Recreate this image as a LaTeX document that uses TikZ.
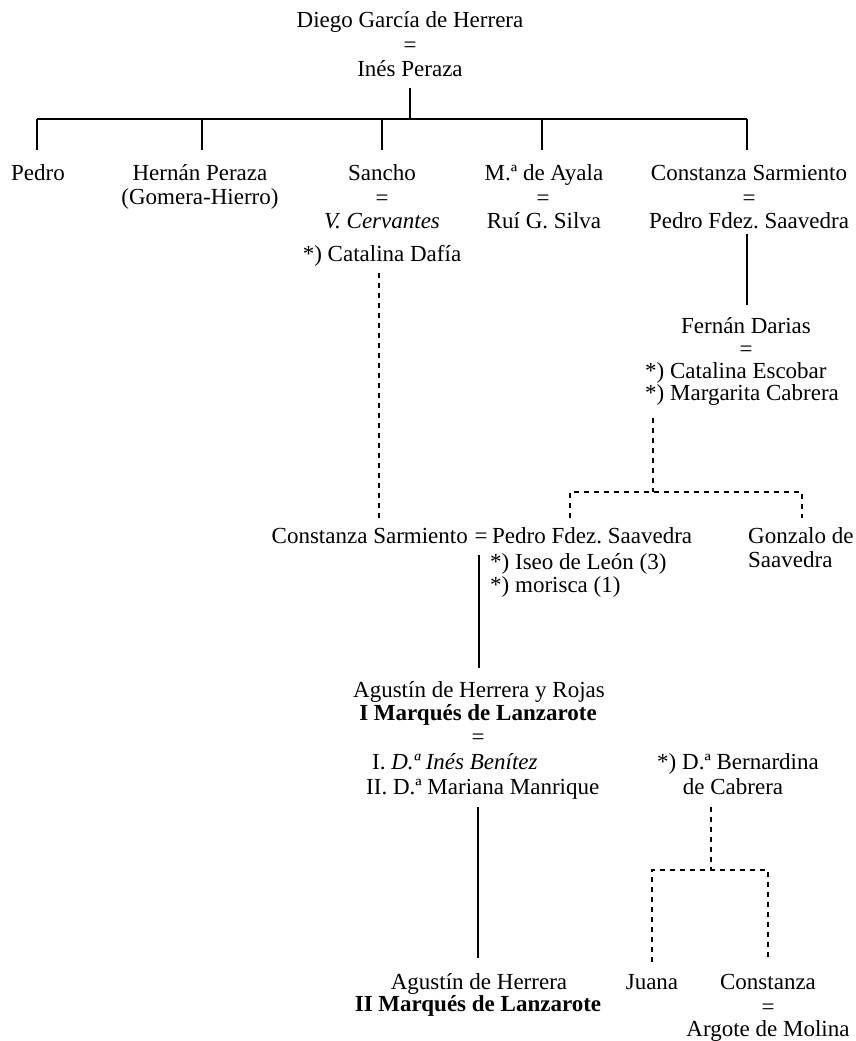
\documentclass[tikz,border=0pt]{standalone}
\usepackage{fontspec}
\setmainfont{Liberation Serif}
\frenchspacing
\begin{document}
\begin{tikzpicture}[x=1pt,y=-1pt,
  txt/.style={inner sep=0pt, text height=16pt, text depth=5pt, font=\fontsize{23}{25}\selectfont},
  solidline/.style={line width=1.6pt},
  dashline/.style={line width=1.4pt, dash pattern=on 5pt off 5pt}]
\useasboundingbox (0,0) rectangle (855,1041);
% top couple
\node[txt] (diego) at (410,22) {Diego García de Herrera};
\node[txt] (eqA) at (410,47) {=};
\node[txt] (ines) at (410,71) {Inés Peraza};
% children row
\node[txt] (pedro) at (38,175) {Pedro};
\node[txt] (hernan) at (200,175) {Hernán Peraza};
\node[txt] (gomera) at (200,199) {(Gomera-Hierro)};
\node[txt] (sancho) at (382,175) {Sancho};
\node[txt] (eqS) at (382,200) {=};
\node[txt] (cervantes) at (382,223) {\itshape V. Cervantes};
\node[txt] (dafia) at (382,256) {*) Catalina Dafía};
\node[txt] (ayala) at (544,175) {M.ª de Ayala};
\node[txt] (eqM) at (543,200) {=};
\node[txt] (silva) at (544,223) {Ruí G. Silva};
\node[txt] (constanza) at (749,175) {Constanza Sarmiento};
\node[txt] (eqC) at (749,200) {=};
\node[txt] (pedrofs) at (749,223) {Pedro Fdez. Saavedra};
% Fernan Darias
\node[txt] (fernan) at (746,328) {Fernán Darias};
\node[txt] (eqF) at (746,351) {=};
\node[txt, anchor=west] (escobar) at (645,373) {*) Catalina Escobar};
\node[txt, anchor=west] (margarita) at (645,395) {*) Margarita Cabrera};
% middle couple
\node[txt, anchor=east] (cs2) at (468,538) {Constanza Sarmiento};
\node[txt] (eq2) at (481,538) {=};
\node[txt, anchor=west] (pfs2) at (492,538) {Pedro Fdez. Saavedra};
\node[txt, anchor=west] (gonzalo) at (748,538) {Gonzalo de};
\node[txt, anchor=west] (saav) at (748,562) {Saavedra};
\node[txt, anchor=west] (iseo) at (490,564) {*) Iseo de León (3)};
\node[txt, anchor=west] (morisca) at (490,587) {*) morisca (1)};
% Agustin I
\node[txt] (ag1) at (479,692) {Agustín de Herrera y Rojas};
\node[txt] (marq1) at (478,715) {\bfseries I Marqués de Lanzarote};
\node[txt] (eqAg) at (478,739) {=};
\node[txt, anchor=west] (benitez) at (372,764) {I. \itshape D.ª Inés Benítez};
\node[txt, anchor=west] (mariana) at (366,789) {II. D.ª Mariana Manrique};
\node[txt] (bern) at (738,764) {*) D.ª Bernardina};
\node[txt] (decab) at (733,789) {de Cabrera};
% bottom
\node[txt] (ag2) at (479,984) {Agustín de Herrera};
\node[txt] (marq2) at (478,1006) {\bfseries II Marqués de Lanzarote};
\node[txt] (juana) at (652,984) {Juana};
\node[txt] (const3) at (768,984) {Constanza};
\node[txt] (eqK) at (768,1009) {=};
\node[txt] (argote) at (768,1031) {Argote de Molina};
% junctions
\coordinate (j0) at (410,119);
\coordinate (b1) at (37,119);
\coordinate (b2) at (202,119);
\coordinate (b3) at (382,119);
\coordinate (b4) at (542,119);
\coordinate (b5) at (747,119);
\coordinate (d0) at (379,256);
\coordinate (j1) at (653,492);
\coordinate (k1) at (570,492);
\coordinate (k2) at (802,492);
\coordinate (s1) at (479,538);
\coordinate (j3) at (711,870);
\coordinate (m1) at (652,870);
\coordinate (m2) at (768,870);
% solid connectors
\draw[solidline, shorten <=6pt] (ines.south) -- (j0);
\draw[solidline] (b1) -- (b5);
\draw[solidline, shorten >=14.5pt] (b1) -- (b1 |- pedro.north);
\draw[solidline, shorten >=14.5pt] (b2) -- (b2 |- hernan.north);
\draw[solidline, shorten >=14.5pt] (b3) -- (b3 |- sancho.north);
\draw[solidline, shorten >=14.5pt] (b4) -- (b4 |- ayala.north);
\draw[solidline, shorten >=14.5pt] (b5) -- (b5 |- constanza.north);
\draw[solidline, shorten >=12.5pt] (b5 |- pedrofs.south) -- (b5 |- fernan.north);
\draw[solidline, shorten <=6pt, shorten >=13.5pt] (s1 |- eq2.south) -- (s1 |- ag1.north);
\draw[solidline, shorten <=7.5pt, shorten >=15.5pt] (marq1.south |- mariana.south) -- (marq1.south |- ag2.north);
% dashed connectors
\draw[dashline, shorten <=6.5pt, shorten >=9.5pt] (d0 |- dafia.south) -- (d0 |- cs2.north);
\draw[dashline, shorten <=12.5pt] (j1 |- margarita.south) -- (j1);
\draw[dashline] (k1 |- pfs2.north) ++(0,-9.5) -- (k1) -- (k2) -- ++(0,26);
\draw[dashline, shorten <=7.5pt] (j3 |- decab.south) -- (j3);
\draw[dashline] (m1 |- juana.north) ++(0,-11.5) -- (m1) -- (m2) -- ++(0,92);
\end{tikzpicture}
\end{document}
